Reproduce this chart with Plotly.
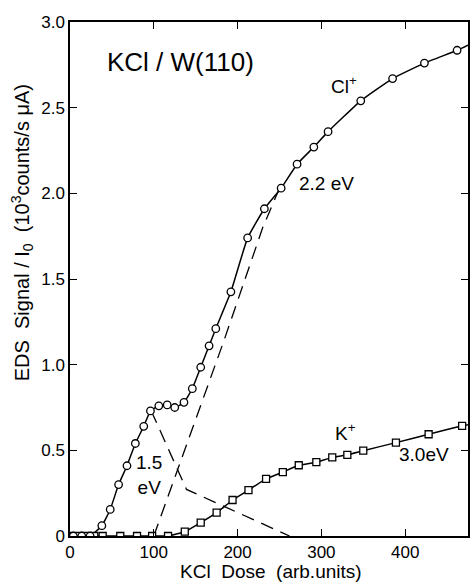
import plotly.graph_objects as go

# Cl+ signal (circles)
cl_x = [4, 14, 24, 38, 48, 58, 68, 78, 88, 96, 106, 116, 125, 136, 146, 156, 166, 174,
        192, 212, 232, 252, 271, 291, 308, 347, 385, 423, 462]
cl_y = [0, 0, 0, 0.06, 0.155, 0.30, 0.41, 0.54, 0.64, 0.73, 0.76, 0.765, 0.75, 0.78, 0.86,
        0.985, 1.11, 1.21, 1.425, 1.74, 1.91, 2.03, 2.17, 2.27, 2.36, 2.54, 2.67, 2.76, 2.835]
cl_end = (475, 2.865)

# K+ signal (squares)
k_x = [0, 10, 19, 29, 39, 60, 80, 98, 117, 137, 156, 175, 194, 213, 234, 254, 273, 294,
       313, 331, 350, 389, 428, 468]
k_y = [0, 0, 0, 0, 0, 0, 0, 0, 0, 0.025, 0.078, 0.136, 0.21, 0.268, 0.333, 0.373, 0.413,
       0.431, 0.459, 0.474, 0.498, 0.545, 0.594, 0.643]
k_end = (475, 0.65)

# dashed decomposition lines
d22_x = [100, 183, 230, 250]
d22_y = [0, 1.13, 1.80, 2.03]
d15_x = [97, 139, 262]
d15_y = [0.73, 0.272, 0]

x_ticks = [0, 100, 200, 300, 400]
y_ticks = [0, 0.5, 1.0, 1.5, 2.0, 2.5, 3.0]
y_tick_text = ["0", "0.5", "1.0", "1.5", "2.0", "2.5", "3.0"]

FONT = "Liberation Sans"
fig = go.Figure()

fig.add_trace(go.Scatter(x=d22_x, y=d22_y, mode="lines",
                         line=dict(color="black", width=1.3, dash="13px,8px")))
fig.add_trace(go.Scatter(x=d15_x, y=d15_y, mode="lines",
                         line=dict(color="black", width=1.3, dash="13px,8px")))

fig.add_trace(go.Scatter(x=k_x + [k_end[0]], y=k_y + [k_end[1]], mode="lines",
                         line=dict(color="black", width=1.5, shape="spline", smoothing=0.4)))
fig.add_trace(go.Scatter(x=cl_x + [cl_end[0]], y=cl_y + [cl_end[1]], mode="lines",
                         line=dict(color="black", width=1.5, shape="spline", smoothing=0.4)))

fig.add_trace(go.Scatter(x=k_x, y=k_y, mode="markers",
                         marker=dict(symbol="square", size=7, color="white",
                                     line=dict(color="black", width=1.3))))
fig.add_trace(go.Scatter(x=cl_x, y=cl_y, mode="markers",
                         marker=dict(symbol="circle", size=7.5, color="white",
                                     line=dict(color="black", width=1.3))))

ann = [
    dict(x=42, y=2.764, text="KCl / W(110)", xanchor="left", yanchor="middle", size=26),
    dict(x=326.5, y=2.63, text="Cl<sup>+</sup>", xanchor="center", yanchor="middle", size=19),
    dict(x=270.8, y=2.058, text="2.2 eV", xanchor="left", yanchor="middle", size=19),
    dict(x=94, y=0.356, text="1.5<br>eV", xanchor="center", yanchor="middle", size=19),
    dict(x=329, y=0.606, text="K<sup>+</sup>", xanchor="center", yanchor="middle", size=19),
    dict(x=422.5, y=0.478, text="3.0eV", xanchor="center", yanchor="middle", size=19),
]
annotations = []
for a in ann:
    annotations.append(dict(x=a["x"], y=a["y"], xref="x", yref="y", text=a["text"],
                            showarrow=False, xanchor=a["xanchor"], yanchor=a["yanchor"],
                            align="center",
                            font=dict(family=FONT, size=a["size"], color="black")))
annotations.append(dict(x=0, y=0.589, xref="paper", yref="paper", xshift=-48,
                        text="EDS&nbsp; Signal / I<sub>0</sub>&nbsp; (10<sup>3</sup>counts/s μA)",
                        textangle=-90, showarrow=False, xanchor="center", yanchor="middle",
                        font=dict(family=FONT, size=20, color="black")))
annotations.append(dict(x=0.506, y=0, xref="paper", yref="paper", yshift=-35,
                        text="KCl&nbsp; Dose&nbsp; (arb.units)",
                        showarrow=False, xanchor="center", yanchor="middle",
                        font=dict(family=FONT, size=19, color="black")))

fig.update_layout(
    width=472, height=582,
    margin=dict(l=69.5, r=2, t=21.5, b=46),
    paper_bgcolor="white", plot_bgcolor="white",
    showlegend=False,
    annotations=annotations,
    font=dict(family=FONT, size=17, color="black"),
)
fig.update_xaxes(range=[0, 475], tickvals=x_ticks, ticks="inside", ticklen=7,
                 tickwidth=1.3, tickcolor="black", showline=True, linecolor="black",
                 linewidth=1.5, mirror="ticks", showgrid=False, zeroline=False,
                 tickfont=dict(family=FONT, size=17, color="black"))
fig.update_yaxes(range=[0, 3], tickvals=y_ticks, ticktext=y_tick_text, ticks="inside",
                 ticklen=7, tickwidth=1.3, tickcolor="black", showline=True,
                 linecolor="black", linewidth=1.5, mirror="ticks", showgrid=False,
                 zeroline=False, tickfont=dict(family=FONT, size=17, color="black"))

fig.write_html("out.html")
